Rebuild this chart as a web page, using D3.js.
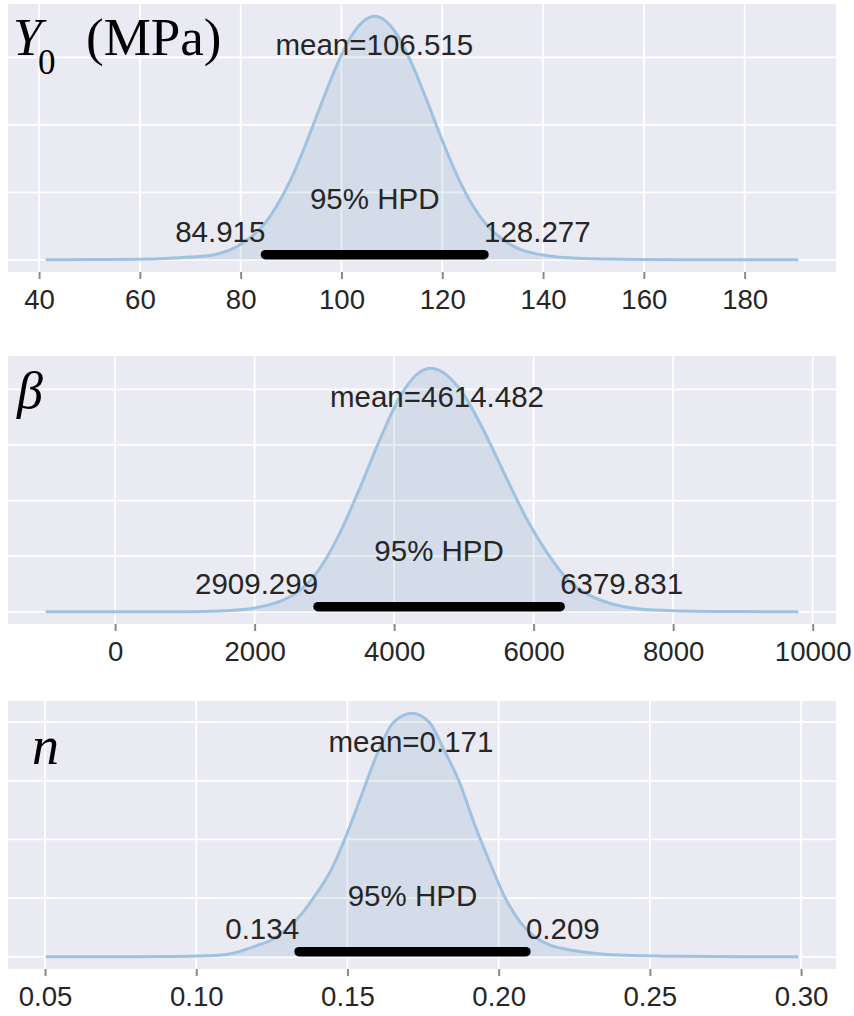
<!DOCTYPE html>
<html><head><meta charset="utf-8">
<script src="https://cdn.jsdelivr.net/npm/d3@7"></script>
<style>body{margin:0;background:#fff}</style>
</head><body>
<svg id="c" width="854" height="1016"></svg>
<script>
// ---------- data ----------
const y0X = [41.3, 50, 60, 65, 70, 75, 78, 81, 84, 87, 90, 93, 96, 99, 102, 105, 106.5, 108, 111, 114, 117, 120, 123, 126, 129, 132, 135, 140, 145, 150, 160, 170, 180, 190.66];
const y0Density = [0.00002, 0.00004, 0.0001, 0.0002, 0.0004, 0.0008, 0.0015, 0.0028, 0.0047, 0.0078, 0.0120, 0.0173, 0.0231, 0.0287, 0.0332, 0.0357, 0.0361, 0.0358, 0.0334, 0.0290, 0.0235, 0.0177, 0.0124, 0.0081, 0.0050, 0.0030, 0.0017, 0.0007, 0.0003, 0.00015, 0.00005, 0.00002, 0.00001, 0.00001];

const betaX = [-996, 0, 1000, 1500, 2000, 2300, 2600, 2900, 3200, 3500, 3800, 4100, 4300, 4520, 4750, 5000, 5300, 5600, 5900, 6200, 6500, 6800, 7100, 7500, 8000, 9000, 9795];
const betaDensity = [0.00000005, 0.0000001, 0.0000003, 0.0000015, 0.000007, 0.000016, 0.000034, 0.000072, 0.000136, 0.00022, 0.000311, 0.00039, 0.000424, 0.000438, 0.000426, 0.00039, 0.000322, 0.000243, 0.000167, 0.000105, 0.000056, 0.00003, 0.000015, 0.0000055, 0.000002, 0.0000004, 0.0000001];

const nX = [0.0502, 0.07, 0.09, 0.10, 0.11, 0.1167, 0.12, 0.125, 0.13, 0.135, 0.1387, 0.145, 0.15, 0.155, 0.16, 0.165, 0.1712, 0.177, 0.182, 0.187, 0.192, 0.197, 0.202, 0.207, 0.212, 0.217, 0.2225, 0.23, 0.24, 0.26, 0.28, 0.2991];
const nDensity = [0, 0.005, 0.02, 0.06, 0.2, 0.65, 0.95, 1.45, 2.4, 3.7, 5.0, 7.6, 10.6, 14.0, 17.4, 19.9, 20.76, 20.0, 17.6, 14.9, 11.3, 8.1, 5.1, 3.0, 1.7, 1.0, 0.65, 0.35, 0.15, 0.04, 0.01, 0];

const meanValues = [106.515, 4614.482, 0.171];
const hpdLow = [84.915, 2909.299, 0.134];
const hpdHigh = [128.277, 6379.831, 0.209];
const hpdLabel = "95% HPD";

const y0TickValues = [40, 60, 80, 100, 120, 140, 160, 180];
const y0TickLabels = ["40", "60", "80", "100", "120", "140", "160", "180"];
const betaTickValues = [0, 2000, 4000, 6000, 8000, 10000];
const betaTickLabels = ["0", "2000", "4000", "6000", "8000", "10000"];
const nTickValues = [0.05, 0.10, 0.15, 0.20, 0.25, 0.30];
const nTickLabels = ["0.05", "0.10", "0.15", "0.20", "0.25", "0.30"];

const y0GridY = [0, 0.01, 0.02, 0.03];
const betaGridY = [0, 0.0001, 0.0002, 0.0003, 0.0004];
const nGridY = [0, 5, 10, 15, 20];

// ---------- layout ----------
const svg = d3.select("#c");
const left = 8, right = 836, panelH = 268;
const panelTops = [4, 356, 701];

const panels = [
  {xs: y0X, ds: y0Density, tv: y0TickValues, tl: y0TickLabels, gy: y0GridY},
  {xs: betaX, ds: betaDensity, tv: betaTickValues, tl: betaTickLabels, gy: betaGridY},
  {xs: nX, ds: nDensity, tv: nTickValues, tl: nTickLabels, gy: nGridY}
];

const textColor = "#262626";
const sans = "'Liberation Sans', Arial, sans-serif";
const serif = "'Liberation Serif', 'Times New Roman', serif";

panels.forEach((p, i) => {
  const top = panelTops[i], bottom = top + panelH;
  const xmin = d3.min(p.xs), xmax = d3.max(p.xs), xr = xmax - xmin;
  const dmax = d3.max(p.ds);
  const x = d3.scaleLinear().domain([xmin - 0.05 * xr, xmax + 0.05 * xr]).range([left, right]);
  const y = d3.scaleLinear().domain([-0.05 * dmax, 1.05 * dmax]).range([bottom, top]);
  const g = svg.append("g");

  g.append("rect").attr("x", left).attr("y", top).attr("width", right - left).attr("height", panelH).attr("fill", "#EAEAF2");

  // grid
  g.selectAll("line.gx").data(p.tv).enter().append("line")
    .attr("x1", d => x(d)).attr("x2", d => x(d)).attr("y1", top).attr("y2", bottom)
    .attr("stroke", "#fff").attr("stroke-width", 1.8);
  g.selectAll("line.gy").data(p.gy).enter().append("line")
    .attr("x1", left).attr("x2", right).attr("y1", d => y(d)).attr("y2", d => y(d))
    .attr("stroke", "#fff").attr("stroke-width", 1.8);

  // axis
  const ax = g.append("g").attr("transform", `translate(0,${bottom})`)
    .call(d3.axisBottom(x).tickValues(p.tv).tickFormat((d, k) => p.tl[k]).tickSize(7).tickSizeOuter(0));
  ax.select(".domain").remove();
  ax.selectAll(".tick line").attr("stroke", "#8a8a8a").attr("stroke-width", 2);
  ax.selectAll(".tick text").attr("y", 37).attr("dy", null)
    .attr("fill", textColor).style("font-family", sans).style("font-size", "27.6px");

  const pts = p.xs.map((v, k) => [v, p.ds[k]]);
  const area = d3.area().x(d => x(d[0])).y0(y(0)).y1(d => y(d[1])).curve(d3.curveMonotoneX);
  const line = d3.line().x(d => x(d[0])).y(d => y(d[1])).curve(d3.curveMonotoneX);
  g.append("path").attr("d", area(pts)).attr("fill", "rgb(70,130,180)").attr("fill-opacity", 0.13);
  g.append("path").attr("d", line(pts)).attr("fill", "none").attr("stroke", "#9EC2DF").attr("stroke-width", 3);

  const ph = y.domain()[1];
  g.append("line").attr("x1", x(hpdLow[i])).attr("x2", x(hpdHigh[i]))
    .attr("y1", y(ph * 0.02)).attr("y2", y(ph * 0.02))
    .attr("stroke", "#000").attr("stroke-width", 9.5).attr("stroke-linecap", "round");

  const txt = (xv, yv, s, anchor) => g.append("text").attr("x", x(xv)).attr("y", y(yv))
    .attr("text-anchor", anchor).attr("fill", textColor)
    .style("font-family", sans).style("font-size", "29.5px").text(s);
  txt(meanValues[i], ph * 0.8, "mean=" + meanValues[i], "middle");
  txt((hpdLow[i] + hpdHigh[i]) / 2, ph * 0.2, hpdLabel, "middle");
  txt(hpdLow[i], ph * 0.07, String(hpdLow[i]), "end");
  txt(hpdHigh[i], ph * 0.07, String(hpdHigh[i]), "start");
});

// parameter labels
const t1 = svg.append("g").style("font-family", serif).attr("fill", "#000");
t1.append("text").attr("x", 13).attr("y", 55).style("font-size", "52px").style("font-style", "italic").text("Y");
t1.append("text").attr("x", 38).attr("y", 74).style("font-size", "35px").text("0");
t1.append("text").attr("x", 86).attr("y", 55).style("font-size", "53px").text("(MPa)");
t1.append("text").attr("x", 17).attr("y", 408).style("font-size", "52px").style("font-style", "italic").text("β");
t1.append("text").attr("x", 32).attr("y", 764).style("font-size", "54px").style("font-style", "italic").text("n");
</script>
</body></html>
